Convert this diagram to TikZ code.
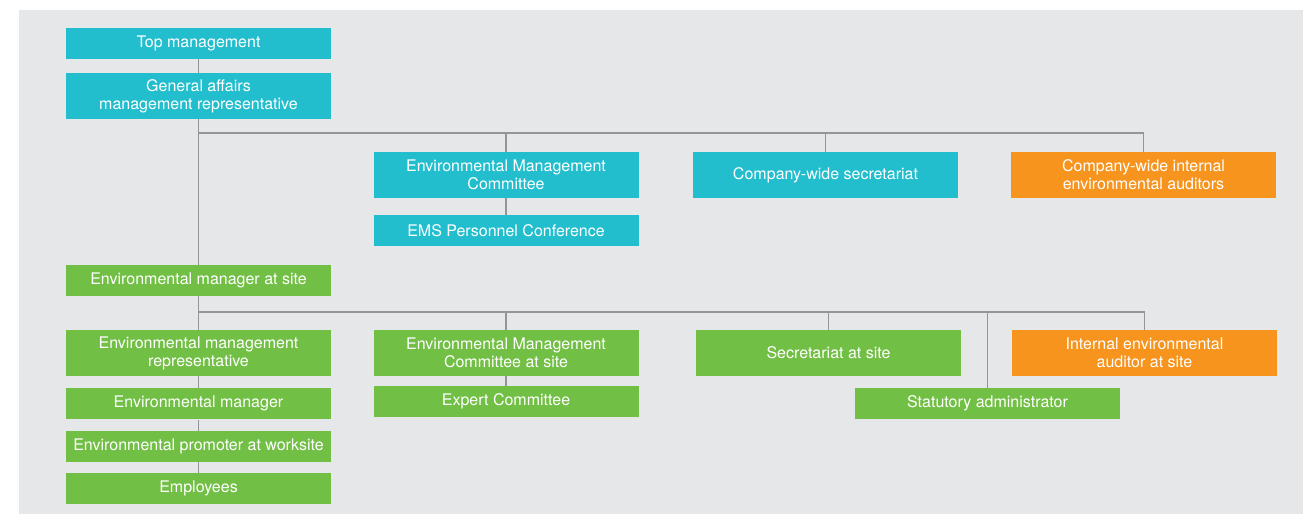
\documentclass[tikz,border=0pt]{standalone}
\usepackage{fontspec}
\setmainfont{TeX Gyre Heros}
\usepackage{xcolor}
\usetikzlibrary{positioning}
\definecolor{ecyan}{HTML}{22BECE}
\definecolor{egreen}{HTML}{71BF44}
\definecolor{eorange}{HTML}{F7941E}
\definecolor{epanel}{HTML}{E6E7E8}
\definecolor{eline}{HTML}{939598}

\tikzset{
  orgbox/.style={minimum width=265pt, minimum height=31pt, inner sep=0pt,
    align=center, text=white, font=\fontsize{16}{18}\selectfont},
  tallbox/.style={orgbox, minimum height=46pt},
  hq/.style={fill=ecyan},
  plant/.style={fill=egreen},
  audit/.style={fill=eorange},
  link/.style={draw=eline, line width=1.3pt},
}

\begin{document}
\begin{tikzpicture}[x=1pt, y=-1pt]
  \useasboundingbox (0,0) rectangle (1303,514);
  \fill[epanel] (19,10) rectangle (1303,514);

  % company-wide level
  \node (top) [orgbox, hq] at (198.5,43.5) {Top management};
  \node (gen) [tallbox, hq, below=13.5pt of top] {General affairs\\management representative};
  \node (emc) [tallbox, hq] at (506,175) {Environmental Management\\Committee};
  \node (ems) [orgbox, hq, below=17pt of emc] {EMS Personnel Conference};
  \node (csec) [tallbox, hq] at (825.5,175) {Company-wide secretariat};
  \node (caud) [tallbox, audit] at (1143.5,175) {Company-wide internal\\environmental auditors};

  % site level
  \node (site) [orgbox, plant] at (198.5,280.5) {Environmental manager at site};
  \node (rep) [tallbox, plant] at (198.5,353) {Environmental management\\representative};
  \node (mgr) [orgbox, plant, below=12pt of rep] {Environmental manager};
  \node (prom) [orgbox, plant, below=11pt of mgr] {Environmental promoter at worksite};
  \node (emp) [orgbox, plant, below=11pt of prom] {Employees};
  \node (emcs) [tallbox, plant] at (506,353) {Environmental Management\\Committee at site};
  \node (exp) [orgbox, plant, below=9.5pt of emcs] {Expert Committee};
  \node (ssec) [tallbox, plant] at (828.5,353) {Secretariat at site};
  \node (stat) [orgbox, plant] at (987.5,403.5) {Statutory administrator};
  \node (saud) [tallbox, audit] at (1144.5,353) {Internal environmental\\auditor at site};

  \coordinate (upbus) at (198.5,133);
  \coordinate (lowbus) at (198.5,312);

  \draw[link] (top) -- (gen);
  \draw[link] (gen) -- (site);
  \draw[link] (upbus) -| (caud);
  \draw[link] (upbus -| emc) -- (emc);
  \draw[link] (upbus -| csec) -- (csec);
  \draw[link] (emc) -- (ems);

  \draw[link] (site) -- (rep) -- (mgr) -- (prom) -- (emp);
  \draw[link] (lowbus) -| (saud);
  \draw[link] (lowbus -| emcs) -- (emcs);
  \draw[link] (lowbus -| ssec) -- (ssec);
  \draw[link] (lowbus -| stat) -- (stat);
  \draw[link] (emcs) -- (exp);
\end{tikzpicture}
\end{document}
